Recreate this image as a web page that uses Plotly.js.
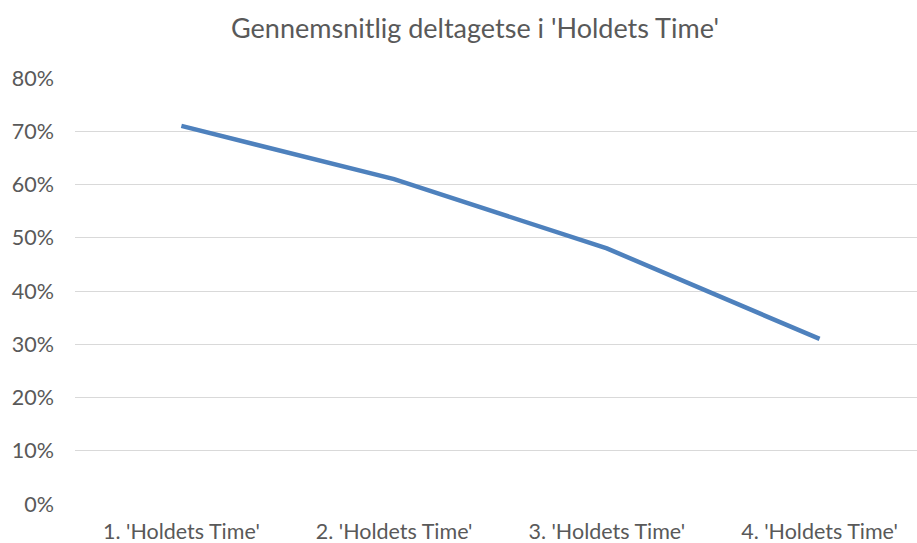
<!DOCTYPE html>
<html>
<head>
<meta charset="utf-8">
<script src="https://cdn.plot.ly/plotly-3.0.1.min.js"></script>
<style>html,body{margin:0;padding:0;background:#fff;}#chart{width:917px;height:543px;}</style>
</head>
<body>
<div id="chart"></div>
<script>
const categories = ["1. 'Holdets Time'", "2. 'Holdets Time'", "3. 'Holdets Time'", "4. 'Holdets Time'"];
const attendance = [0.71, 0.61, 0.48, 0.31];
const yTicks = [0, 0.1, 0.2, 0.3, 0.4, 0.5, 0.6, 0.7, 0.8];
const yTickLabels = ["0%", "10%", "20%", "30%", "40%", "50%", "60%", "70%", "80%"];
const chartTitle = "Gennemsnitlig deltagetse i 'Holdets Time'";

const font = "Lato, 'Open Sans', sans-serif";
const trace = {
  x: [0, 1, 2, 3],
  y: attendance,
  type: 'scatter',
  mode: 'lines',
  line: {color: '#4E81BD', width: 4.5},
  hoverinfo: 'skip'
};
const layout = {
  width: 917, height: 543,
  margin: {l: 75, r: 0, t: 78, b: 39},
  paper_bgcolor: '#fff', plot_bgcolor: '#fff',
  showlegend: false,
  title: {text: chartTitle, x: 0.518, xref: 'container', xanchor: 'center', y: 0.948, yref: 'container', yanchor: 'middle',
          font: {family: font, size: 27, color: '#595959'}},
  xaxis: {
    range: [-0.5, 3.458], tickvals: [0, 1, 2, 3], ticktext: categories,
    showgrid: false, zeroline: false, showline: false, ticks: '',
    tickfont: {family: font, size: 21.5, color: '#595959'}, ticklabelstandoff: 12
  },
  yaxis: {
    range: [0, 0.8], tickvals: yTicks, ticktext: yTickLabels,
    showgrid: true, gridcolor: '#d9d9d9', gridwidth: 1, zeroline: false, showline: false, ticks: '',
    tickfont: {family: font, size: 21.5, color: '#595959'}, ticklabelstandoff: 20
  }
};
Plotly.newPlot('chart', [trace], layout, {displayModeBar: false, staticPlot: true});
</script>
</body>
</html>
